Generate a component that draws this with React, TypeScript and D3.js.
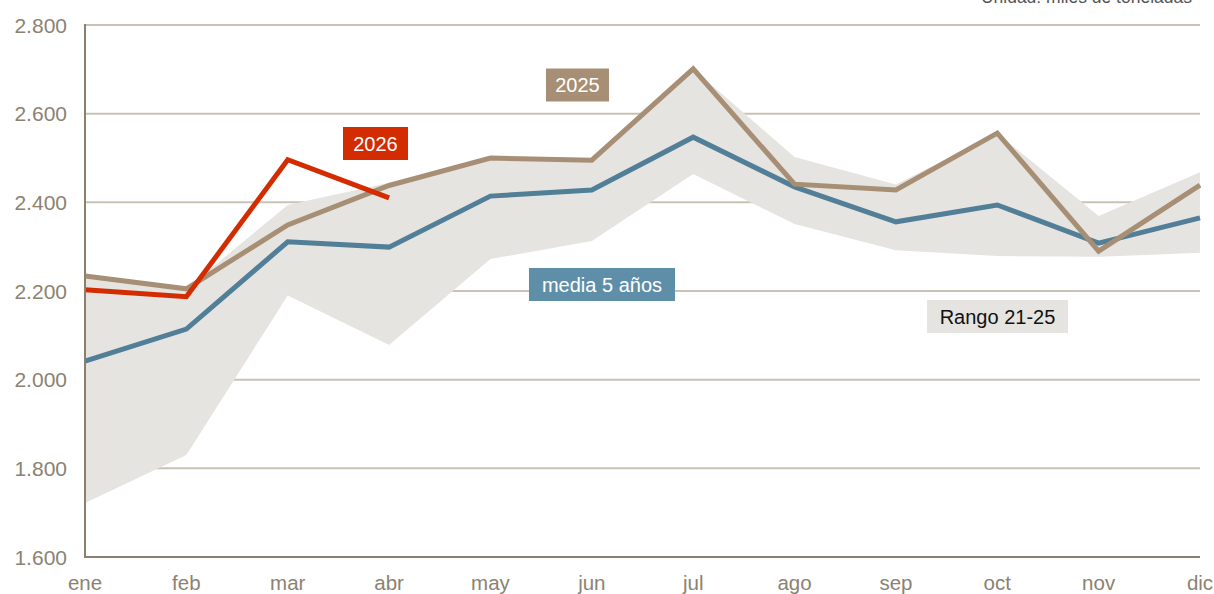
import * as d3 from "d3";

const w = 1214;
const h = 594;
const margin = { top: 25, right: 14, bottom: 37, left: 85 };

const months = ["ene", "feb", "mar", "abr", "may", "jun", "jul", "ago", "sep", "oct", "nov", "dic"];
const rangeMax = [2235, 2205, 2394, 2444, 2500, 2496, 2701, 2502, 2440, 2556, 2369, 2468];
const rangeMin = [1722, 1830, 2190, 2078, 2272, 2313, 2464, 2351, 2292, 2279, 2277, 2286];
const media5 = [2042, 2114, 2311, 2299, 2414, 2428, 2547, 2435, 2356, 2394, 2308, 2365];
const y2025 = [2234, 2205, 2349, 2438, 2500, 2495, 2701, 2441, 2428, 2556, 2290, 2439];
const y2026 = [2203, 2187, 2496, 2410];
const yTicks = [1600, 1800, 2000, 2200, 2400, 2600, 2800];

const fmt = d3
  .formatLocale({ decimal: ",", thousands: ".", grouping: [3], currency: ["", "€"] })
  .format(",.0f");

const x = d3
  .scalePoint<string>()
  .domain(months)
  .range([margin.left, w - margin.right]);
const y = d3
  .scaleLinear()
  .domain([1600, 2800])
  .range([h - margin.bottom, margin.top]);

const area = d3
  .area<number>()
  .x((_, i) => x(months[i]) as number)
  .y0((_, i) => y(rangeMin[i]))
  .y1((d) => y(d));

const line = d3
  .line<number>()
  .x((_, i) => x(months[i]) as number)
  .y((d) => y(d));

const font = "'Liberation Sans', Arial, sans-serif";

// label boxes placed next to the series they name
function Tag(props: { cx: number; cy: number; width: number; text: string; bg: string; color: string }) {
  const { cx, cy, width, text, bg, color } = props;
  return (
    <g>
      <rect x={cx - width / 2} y={cy - 16.5} width={width} height={33} fill={bg} />
      <text x={cx} y={cy + 7} textAnchor="middle" fontSize={20} fill={color} fontFamily={font}>
        {text}
      </text>
    </g>
  );
}

export default function App() {
  const x0 = margin.left;
  const x1 = w - margin.right;
  const yb = h - margin.bottom;
  return (
    <svg
      width={w}
      height={h}
      style={{ position: "absolute", left: 0, top: 0, display: "block", background: "#fff" }}
    >
      {yTicks.slice(1).map((t) => (
        <line key={t} x1={x0} x2={x1} y1={y(t)} y2={y(t)} stroke="#C9C3B5" strokeWidth={2} />
      ))}
      <path d={area(rangeMax) ?? ""} fill="#E6E4E0" />
      <path d={line(media5) ?? ""} fill="none" stroke="#527F98" strokeWidth={5} />
      <path d={line(y2025) ?? ""} fill="none" stroke="#A68F74" strokeWidth={5} />
      <path d={line(y2026) ?? ""} fill="none" stroke="#D22C00" strokeWidth={5} />
      <line x1={x0} x2={x0} y1={margin.top - 1} y2={yb + 1} stroke="#8B806E" strokeWidth={2} />
      <line x1={x0} x2={x1} y1={yb} y2={yb} stroke="#8B806E" strokeWidth={2} />
      {yTicks.map((t) => (
        <text
          key={t}
          x={67}
          y={y(t) + 7.5}
          textAnchor="end"
          fontSize={21}
          fill="#8B8272"
          fontFamily={font}
        >
          {fmt(t)}
        </text>
      ))}
      {months.map((m) => (
        <text
          key={m}
          x={x(m)}
          y={590}
          textAnchor="middle"
          fontSize={20.5}
          fill="#8B8272"
          fontFamily={font}
        >
          {m}
        </text>
      ))}
      <text x={1192} y={3} textAnchor="end" fontSize={17.5} fill="#555" fontFamily={font}>
        Unidad: miles de toneladas
      </text>
      <Tag cx={375.5} cy={143.5} width={65} text="2026" bg="#D22C00" color="#fff" />
      <Tag cx={577.5} cy={85} width={63} text="2025" bg="#A68F74" color="#fff" />
      <Tag cx={602} cy={284.5} width={146} text="media 5 años" bg="#5F8FA8" color="#fff" />
      <Tag cx={997.5} cy={316.5} width={141} text="Rango 21-25" bg="#E6E4E0" color="#111" />
    </svg>
  );
}
